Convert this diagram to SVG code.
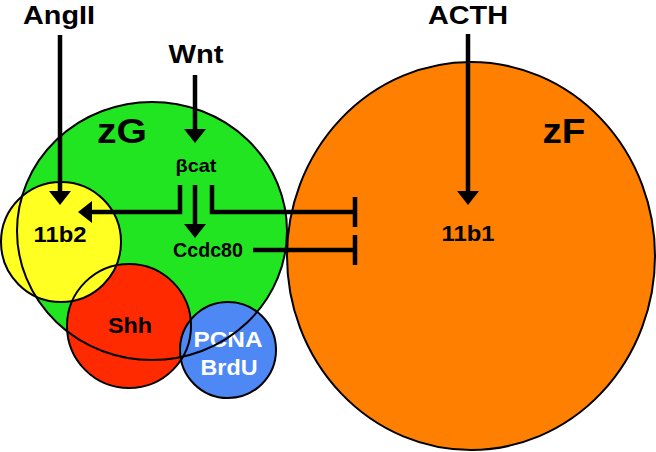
<svg xmlns="http://www.w3.org/2000/svg" width="656" height="452" viewBox="0 0 656 452">
<defs>
<style>
text{font-family:"Liberation Sans",Arial,sans-serif;font-weight:bold;text-anchor:middle;fill:#000}
.big{font-size:26px}
.zone{font-size:35px}
.lbl{font-size:22px}
.wht{fill:#fff}
.out{fill:none;stroke:#000;stroke-width:2}
.ln{fill:none;stroke:#000;stroke-width:4.5}
.arr{marker-end:url(#ah)}
</style>
<marker id="ah" markerUnits="userSpaceOnUse" viewBox="0 0 14 22" markerWidth="14" markerHeight="22" refX="9" refY="11" orient="auto">
<path d="M0,0 L14,11 L0,22 Z" fill="#000"/>
</marker>
</defs>
<rect width="656" height="452" fill="#fff"/>
<g id="zF">
<ellipse cx="471" cy="256" rx="184" ry="194" fill="#ff7f00" stroke="#000" stroke-width="2"/>
<text class="zone" x="564" y="143" textLength="43" lengthAdjust="spacingAndGlyphs">zF</text>
<text class="lbl" x="468" y="241" textLength="53" lengthAdjust="spacingAndGlyphs">11b1</text>
</g>
<g id="zG">
<ellipse cx="152" cy="231" rx="135" ry="129" fill="#22e522"/>
<text class="zone" x="122" y="143" textLength="50" lengthAdjust="spacingAndGlyphs">zG</text>
<text x="196" y="172" style="font-size:19px" textLength="41" lengthAdjust="spacingAndGlyphs">βcat</text>
<text x="208" y="257" style="font-size:20px" textLength="70" lengthAdjust="spacingAndGlyphs">Ccdc80</text>
</g>
<g id="Shh">
<circle cx="129" cy="326" r="62" fill="#ff2a00"/>
<text class="lbl" x="130" y="333" textLength="44" lengthAdjust="spacingAndGlyphs">Shh</text>
</g>
<g id="n11b2">
<circle cx="61" cy="242" r="60" fill="#ffff22"/>
<text class="lbl" x="60" y="242" textLength="53" lengthAdjust="spacingAndGlyphs">11b2</text>
</g>
<g id="PCNA">
<circle cx="228" cy="350" r="48" fill="#4d88f5"/>
<text class="lbl wht" x="228" y="347" textLength="69" lengthAdjust="spacingAndGlyphs">PCNA</text>
<text class="lbl wht" x="229" y="375" textLength="57" lengthAdjust="spacingAndGlyphs">BrdU</text>
</g>
<g id="outlines">
<circle class="out" cx="129" cy="326" r="62"/>
<circle class="out" cx="61" cy="242" r="60"/>
<circle class="out" cx="228" cy="350" r="48"/>
<ellipse class="out" cx="152" cy="231" rx="135" ry="129"/>
</g>
<g id="AngII"><text class="big" x="59" y="24" textLength="72" lengthAdjust="spacingAndGlyphs">AngII</text></g>
<g id="Wnt"><text class="big" x="196" y="63" textLength="55" lengthAdjust="spacingAndGlyphs">Wnt</text></g>
<g id="ACTH"><text class="big" x="468" y="24" textLength="80" lengthAdjust="spacingAndGlyphs">ACTH</text></g>
<g id="connectors">
<line class="ln arr" x1="60" y1="35" x2="60" y2="200"/>
<line class="ln arr" x1="195" y1="75" x2="195" y2="138"/>
<line class="ln arr" x1="468" y1="34" x2="468" y2="200"/>
<path class="ln arr" d="M180,185 V212 H83"/>
<line class="ln arr" x1="195" y1="185" x2="195" y2="233"/>
<path class="ln" d="M212,185 V212 H355"/>
<line class="ln" x1="355" y1="197" x2="355" y2="227"/>
<line class="ln" x1="253" y1="250" x2="355" y2="250"/>
<line class="ln" x1="355" y1="235" x2="355" y2="265"/>
</g>
</svg>
